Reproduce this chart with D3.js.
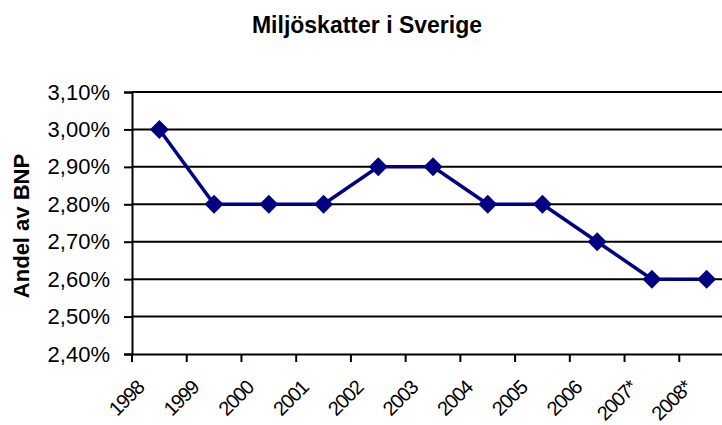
<!DOCTYPE html>
<html>
<head>
<meta charset="utf-8">
<script src="https://cdn.jsdelivr.net/npm/d3@7"></script>
<style>
  html, body { margin: 0; padding: 0; background: #fff; }
  svg { display: block; font-family: "Liberation Sans", Arial, sans-serif; }
</style>
</head>
<body>
<svg id="chart" width="722" height="425"></svg>
<script>
const categories = ["1998", "1999", "2000", "2001", "2002", "2003", "2004", "2005", "2006", "2007*", "2008*"];
const values = [3.0, 2.8, 2.8, 2.8, 2.9, 2.9, 2.8, 2.8, 2.7, 2.6, 2.6];
const yTicks = [2.4, 2.5, 2.6, 2.7, 2.8, 2.9, 3.0, 3.1];
const chartTitle = "Miljöskatter i Sverige";
const yTitle = "Andel av BNP";

(function () {
const svg = d3.select("#chart");
const pLeft = 132, pRight = 734, pTop = 92, pBottom = 354;

const x = d3.scaleBand().domain(categories).range([pLeft, pRight]).padding(0);
const y = d3.scaleLinear().domain([2.4, 3.1]).range([pBottom, pTop]);
const fmt = v => v.toFixed(2).replace(".", ",") + "%";

// gridlines
svg.append("g")
  .selectAll("line").data(yTicks.filter(t => t > 2.4)).join("line")
  .attr("x1", pLeft).attr("x2", 722)
  .attr("y1", d => y(d)).attr("y2", d => y(d))
  .attr("stroke", "#000").attr("stroke-width", 2);

// y axis
const yAxis = svg.append("g").attr("transform", `translate(${pLeft},0)`)
  .call(d3.axisLeft(y).tickValues(yTicks).tickFormat(fmt).tickSize(8).tickPadding(14));
yAxis.select(".domain").attr("stroke", "#000").attr("stroke-width", 2);
yAxis.selectAll(".tick line").attr("stroke", "#000").attr("stroke-width", 2);
yAxis.selectAll(".tick text").attr("font-size", 22).attr("fill", "#000")
  .attr("font-family", "Liberation Sans, Arial, sans-serif");

// x axis
const xAxis = svg.append("g").attr("transform", `translate(0,${pBottom})`)
  .call(d3.axisBottom(x).tickSize(0).tickFormat(""));
xAxis.select(".domain").attr("stroke", "#000").attr("stroke-width", 2);
xAxis.selectAll(".tick").remove();
// x ticks at band boundaries
svg.append("g").selectAll("line")
  .data(categories).join("line")
  .attr("x1", d => x(d)).attr("x2", d => x(d))
  .attr("y1", pBottom).attr("y2", pBottom + 8)
  .attr("stroke", "#000").attr("stroke-width", 2);

// x labels rotated
svg.append("g").selectAll("text").data(categories).join("text")
  .attr("transform", d => `translate(${x(d) + x.bandwidth() / 2 - 19},${pBottom + 30}) rotate(-45)`)
  .attr("text-anchor", "end")
  .attr("dy", "0.35em")
  .attr("font-size", 20)
  .attr("letter-spacing", "-1.2px")
  .attr("fill", "#000")
  .text(d => d);

// line
const line = d3.line()
  .x((d, i) => x(categories[i]) + x.bandwidth() / 2)
  .y(d => y(d));
svg.append("path").datum(values)
  .attr("d", line)
  .attr("fill", "none")
  .attr("stroke", "#000080")
  .attr("stroke-width", 3.5);

// markers
svg.append("g").selectAll("path").data(values).join("path")
  .attr("d", d3.symbol(d3.symbolSquare, 180))
  .attr("transform", (d, i) => `translate(${x(categories[i]) + x.bandwidth() / 2},${y(d)}) rotate(45)`)
  .attr("fill", "#000080");

// title
svg.append("text")
  .attr("x", 367).attr("y", 33)
  .attr("text-anchor", "middle")
  .attr("font-size", 23).attr("font-weight", "bold")
  .attr("fill", "#000")
  .text(chartTitle);

// y title
svg.append("text")
  .attr("transform", `translate(29,${(pTop + pBottom) / 2 + 3}) rotate(-90)`)
  .attr("text-anchor", "middle")
  .attr("font-size", 22).attr("font-weight", "bold")
  .attr("fill", "#000")
  .text(yTitle);
})();
</script>
</body>
</html>
